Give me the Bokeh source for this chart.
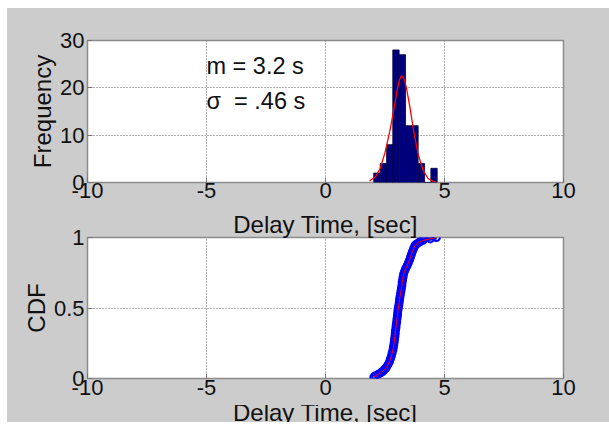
from bokeh.plotting import figure
from bokeh.models import Range1d, Label, CustomJSTickFormatter, Div
from bokeh.layouts import column
from bokeh.embed import file_html
from bokeh.resources import INLINE

# ---------------- data ----------------
x_ticks = [-10, -5, 0, 5, 10]
hist_y_ticks = [0, 10, 20, 30]
cdf_y_ticks = [0, 0.5, 1]

# histogram of delay times (10 bins)
bin_centers = [2.16, 2.43, 2.70, 2.96, 3.23, 3.49, 3.76, 4.03, 4.29, 4.56]
bin_counts = [2, 4, 8, 28, 27, 12, 12, 4, 0, 3]
bin_width = 0.266

# fitted normal curve (red)
fit_x = [1.85, 2.10, 2.30, 2.50, 2.70, 2.85, 3.00, 3.10, 3.20, 3.30, 3.40,
         3.55, 3.70, 3.90, 4.10, 4.30, 4.50, 4.65]
fit_y = [0.3, 1.2, 3.0, 6.3, 10.8, 14.8, 19.2, 21.6, 22.6, 21.9, 20.0,
         15.8, 11.0, 5.8, 2.6, 0.9, 0.3, 0.1]

# empirical CDF
cdf_x = [2.03, 2.10, 2.22, 2.32, 2.40, 2.46, 2.52, 2.56, 2.63, 2.69, 2.73,
         2.77, 2.80, 2.83, 2.85, 2.87, 2.89, 2.90, 2.92, 2.93, 2.94, 2.96,
         2.97, 2.99, 3.00, 3.02, 3.03, 3.04, 3.06, 3.08, 3.10, 3.11, 3.13,
         3.15, 3.17, 3.19, 3.21, 3.22, 3.24, 3.26, 3.28, 3.32, 3.37, 3.43,
         3.48, 3.53, 3.57, 3.61, 3.65, 3.70, 3.75, 3.80, 3.88, 3.97, 4.10,
         4.40, 4.66]
cdf_y = [0.01, 0.02, 0.03, 0.04, 0.05, 0.06, 0.07, 0.08, 0.10, 0.12, 0.14,
         0.16, 0.18, 0.20, 0.22, 0.24, 0.26, 0.28, 0.30, 0.32, 0.34, 0.36,
         0.38, 0.40, 0.42, 0.44, 0.46, 0.48, 0.50, 0.52, 0.54, 0.56, 0.58,
         0.60, 0.62, 0.64, 0.66, 0.68, 0.70, 0.72, 0.74, 0.76, 0.78, 0.80,
         0.82, 0.84, 0.86, 0.88, 0.90, 0.92, 0.94, 0.95, 0.96, 0.97, 0.98,
         0.99, 1.00]

mean_text = "m = 3.2 s"
sigma_text = "\u03c3\u00a0 = .46 s"
x_label = "Delay Time, [sec]"

FONT = "Liberation Sans"
GRAY = "#cccccc"
W = 602


def make_fig(height, top, bottom, y0, y1, yticks, ylabel, standoff):
    p = figure(width=W, height=height, title=None,
               x_range=Range1d(-10, 10), y_range=Range1d(y0, y1),
               output_backend="svg", toolbar_location=None,
               min_border_left=80, min_border_right=46,
               min_border_top=top, min_border_bottom=bottom,
               background_fill_color="white", border_fill_color=GRAY,
               outline_line_color="#8c8c8c", outline_line_width=1.5)
    p.xaxis.ticker = x_ticks
    p.yaxis.ticker = yticks
    for ax in (p.xaxis, p.yaxis):
        ax.axis_line_color = None
        ax.major_tick_in = 5
        ax.major_tick_out = 0
        ax.major_tick_line_color = "#777777"
        ax.minor_tick_line_color = None
        ax.major_label_text_font = FONT
        ax.major_label_text_font_size = "22px"
        ax.major_label_text_color = "#111111"
        ax.formatter = CustomJSTickFormatter(code="return tick.toString();")
    p.xaxis.major_label_standoff = standoff
    p.yaxis.major_label_standoff = 3
    p.yaxis.axis_label = ylabel
    p.yaxis.axis_label_text_font = FONT
    p.yaxis.axis_label_text_font_size = "24px"
    p.yaxis.axis_label_text_font_style = "normal"
    p.yaxis.axis_label_text_color = "#111111"
    p.yaxis.axis_label_standoff = 1
    for g in (p.xgrid, p.ygrid):
        g.grid_line_color = "#666666"
        g.grid_line_dash = "1 2"
        g.grid_line_width = 1
    return p


def add_text(p, x, y, text):
    p.add_layout(Label(x=x, y=y, text=text,
                       text_align="left", text_baseline="middle",
                       text_font=FONT, text_font_size="23.5px",
                       text_color="#111111"))


# ---------------- top: histogram ----------------
top = make_fig(200, 32, 26, 0, 30, hist_y_ticks, "Frequency", 0)
lefts = [c - bin_width / 2 for c in bin_centers]
rights = [c + bin_width / 2 for c in bin_centers]
top.quad(left=lefts, right=rights, bottom=0, top=bin_counts,
         fill_color="#00007f", line_color="#000033", line_width=0.8)
top.line(fit_x, fit_y, line_color="red", line_width=1.3)
add_text(top, -5, 24.7, mean_text)
add_text(top, -5, 17.3, sigma_text)

# ---------------- bottom: CDF ----------------
bot = make_fig(197, 28, 27, 0, 1, cdf_y_ticks, "CDF", 1)
bot.title = x_label
bot.title.align = "center"
bot.title.text_font = FONT
bot.title.text_font_size = "24px"
bot.title.text_font_style = "normal"
bot.title.text_color = "#111111"
bot.title.standoff = 0
bot.line(cdf_x, cdf_y, line_color="blue", line_width=4)
bot.scatter(cdf_x, cdf_y, marker="circle", size=7, fill_color=None,
            line_color="blue", line_width=2)
bot.line(cdf_x, cdf_y, line_color="red", line_width=1.0)

# bottom x label, cut off at the lower edge like the reference
cut = Div(
    text=('<div style="font-family:\'Liberation Sans\';font-size:24px;'
          'line-height:26.8px;margin-top:-5px;margin-left:34px;width:568px;'
          'text-align:center;color:#111111;white-space:nowrap">'
          + x_label + '</div>'),
    width=W, height=17, margin=0,
    styles={"overflow": "hidden", "background-color": GRAY})

layout = column(top, bot, cut, spacing=0, margin=(8, 0, 0, 7),
                styles={"background-color": GRAY})
open("out.html", "w").write(file_html(layout, INLINE))
